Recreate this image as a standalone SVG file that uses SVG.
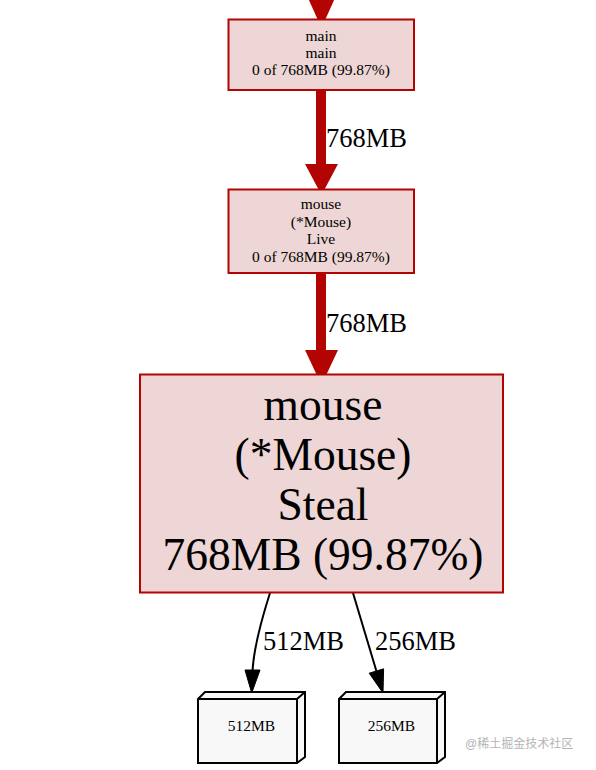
<svg xmlns="http://www.w3.org/2000/svg" width="596" height="770" viewBox="0 0 596 770">
<style>
.node rect.hot{fill:#edd6d5;stroke:#b20400;stroke-width:2}
.t{font-family:"Liberation Serif","Times New Roman",serif;fill:#000;text-anchor:middle}
.s15{font-size:15.5px}
.s45{font-size:45.5px}
.lbl{font-family:"Liberation Serif","Times New Roman",serif;font-size:26.5px;fill:#000}
.thick{stroke:#b20400;stroke-width:10;fill:none}
.redhead{fill:#b20400;stroke:none}
.thin{stroke:#000;stroke-width:2;fill:none}
.blackhead{fill:#000;stroke:#000;stroke-width:1}
.box{fill:#f8f8f8;stroke:#000;stroke-width:2;stroke-linejoin:miter}
.edge3d{fill:none;stroke:#000;stroke-width:2}
.wm{font-family:"Liberation Sans","Noto Sans CJK SC",sans-serif;font-size:12px;fill:#b4b4b4}
</style>
<rect width="596" height="770" fill="#ffffff"/>
<g id="connectors">
  <polygon class="redhead" points="308,-2 335,-2 321.5,28"/>
  <line class="thick" x1="321" y1="90" x2="321" y2="166"/>
  <polygon class="redhead" points="305,164 338,164 321.5,195"/>
  <text class="lbl" x="326" y="147">768MB</text>
  <line class="thick" x1="321" y1="273" x2="321" y2="352"/>
  <polygon class="redhead" points="305,350 338,350 321.5,385"/>
  <text class="lbl" x="326" y="332">768MB</text>
  <path class="thin" d="M270,593 C262,618 254,645 252.5,671"/>
  <polygon class="blackhead" points="245,670 260,670 251.7,693"/>
  <text class="lbl" x="263" y="650">512MB</text>
  <line class="thin" x1="353" y1="593" x2="376.4" y2="671"/>
  <polygon class="blackhead" points="383.6,668.8 369.2,673.2 383,693"/>
  <text class="lbl" x="375" y="650">256MB</text>
</g>
<g id="node-main" class="node">
  <rect class="hot" x="228.5" y="19.5" width="185.5" height="70.5"/>
  <text class="t s15" x="321" y="41">main</text>
  <text class="t s15" x="321" y="58">main</text>
  <text class="t s15" x="321" y="75">0 of 768MB (99.87%)</text>
</g>
<g id="node-live" class="node">
  <rect class="hot" x="228.5" y="189.5" width="185.5" height="83.5"/>
  <text class="t s15" x="321" y="209">mouse</text>
  <text class="t s15" x="321" y="227">(*Mouse)</text>
  <text class="t s15" x="321" y="244">Live</text>
  <text class="t s15" x="321" y="262">0 of 768MB (99.87%)</text>
</g>
<g id="node-steal" class="node">
  <rect class="hot" x="140" y="374.5" width="363" height="218"/>
  <text class="t s45" x="323" y="420">mouse</text>
  <text class="t s45" x="323" y="470">(*Mouse)</text>
  <text class="t s45" x="323" y="520">Steal</text>
  <text class="t s45" x="323" y="570">768MB (99.87%)</text>
</g>
<g id="node-512" class="node">
  <polygon class="box" points="198,699 205,692 305,692 305,757 297,763 198,763"/>
  <polyline class="edge3d" points="198,699 297,699 305,692"/>
  <line class="edge3d" x1="297" y1="699" x2="297" y2="763"/>
  <text class="t s15" x="251.5" y="731">512MB</text>
</g>
<g id="node-256" class="node">
  <polygon class="box" points="339,699 346,692 445,692 445,757 437,763 339,763"/>
  <polyline class="edge3d" points="339,699 437,699 445,692"/>
  <line class="edge3d" x1="437" y1="699" x2="437" y2="763"/>
  <text class="t s15" x="391.5" y="731">256MB</text>
</g>
<text class="wm" x="465" y="748">@稀土掘金技术社区</text>
</svg>
